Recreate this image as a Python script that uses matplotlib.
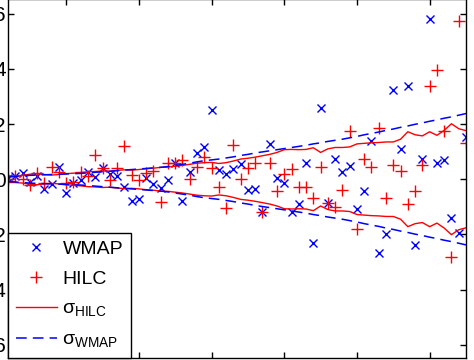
import matplotlib
matplotlib.use('Agg')
import matplotlib.pyplot as plt
import numpy as np

plt.rcParams['font.family'] = ['Liberation Sans', 'DejaVu Sans']
plt.rcParams['mathtext.fontset'] = 'custom'
plt.rcParams['mathtext.rm'] = 'Liberation Sans'

# multipoles
ell = np.arange(2, 66)

wmap = np.array([0.05, 0.12, 0.23, -0.10, 0.12, -0.35, -0.17, 0.45, -0.50, -0.13,
                 -0.03, 0.26, 0.08, 0.41, 0.19, 0.12, -0.28, -0.79, -0.71, 0.05,
                 -0.17, -0.32, -0.03, 0.59, -0.79, 0.26, 0.95, 1.17, 2.51, 0.34,
                 0.19, 0.37, 0.55, -0.39, -0.35, -1.18, 1.28, 0.05, -0.13, -1.18,
                 -0.89, 0.59, -2.31, 2.58, -0.86, 0.74, 0.26, 0.48, -1.08, -0.42,
                 1.39, -2.67, -1.98, 3.24, 1.10, 3.38, -2.38, 0.74, 5.81, 0.59,
                 0.70, -1.40, -1.95, 1.53])

hilc = np.array([0.01, 0.12, 0.01, -0.21, 0.23, -0.13, 0.45, 0.26, -0.13, -0.10,
                 0.26, 0.12, 0.88, 0.41, -0.03, 0.41, 1.21, 0.16, -0.03, 0.23,
                 0.30, -0.82, 0.59, 0.59, 0.70, 0.01, 0.45, 0.81, 0.41, -0.28,
                 -1.04, 1.24, 0.01, 0.41, 0.59, -1.18, 0.59, -0.42, 0.19, 0.37,
                 -0.28, -0.28, -0.68, 0.45, -0.86, -1.00, -0.39, 1.75, -1.80, 0.74,
                 0.45, 1.86, -0.68, 0.52, 0.30, -0.89, -0.42, 0.52, 3.38, 3.96,
                 1.75, -2.82, 5.74, 1.32])

sigma_hilc = np.array([0.12, 0.12, 0.14, 0.18, 0.20, 0.17, 0.15, 0.17, 0.20, 0.22,
                       0.24, 0.27, 0.28, 0.30, 0.29, 0.32, 0.34, 0.33, 0.35, 0.38,
                       0.40, 0.43, 0.44, 0.47, 0.50, 0.54, 0.58, 0.60, 0.61, 0.57,
                       0.60, 0.66, 0.73, 0.76, 0.80, 0.85, 0.90, 0.97, 1.07, 1.08,
                       1.07, 1.08, 1.14, 0.97, 1.10, 1.15, 1.15, 1.17, 1.28, 1.30,
                       1.32, 1.33, 1.35, 1.35, 1.45, 1.72, 1.61, 1.57, 1.72, 1.59,
                       1.77, 2.01, 1.83, 1.76])

sigma_wmap = np.array([0.08, 0.10, 0.12, 0.14, 0.15, 0.16, 0.17, 0.18, 0.19, 0.20,
                       0.21, 0.23, 0.25, 0.27, 0.29, 0.31, 0.33, 0.35, 0.37, 0.39,
                       0.41, 0.43, 0.46, 0.50, 0.54, 0.58, 0.63, 0.67, 0.70, 0.73,
                       0.77, 0.81, 0.86, 0.90, 0.95, 0.99, 1.03, 1.07, 1.11, 1.15,
                       1.19, 1.23, 1.28, 1.32, 1.37, 1.41, 1.45, 1.50, 1.55, 1.61,
                       1.66, 1.71, 1.77, 1.82, 1.88, 1.93, 1.99, 2.04, 2.10, 2.15,
                       2.21, 2.26, 2.32, 2.38])

fig = plt.figure(figsize=(4.74, 3.6), dpi=100)
ax = fig.add_axes([8 / 474, 2.5 / 360, 458 / 474, 358.5 / 360])

h1, = ax.plot(ell, wmap, 'x', color='#0000ff', ms=6, mew=1, label='WMAP')
h2, = ax.plot(ell, hilc, '+', color='#ff0000', ms=8, mew=1, label='HILC')
h3, = ax.plot(ell, sigma_hilc, '-', color='#ff0000', lw=1, label=r'σ$_{\mathrm{HILC}}$')
ax.plot(ell, -sigma_hilc, '-', color='#ff0000', lw=1)
h4, = ax.plot(ell, sigma_wmap, '--', color='#0000ff', lw=1.1, dashes=(7, 4),
              label=r'σ$_{\mathrm{WMAP}}$')
ax.plot(ell, -sigma_wmap, '--', color='#0000ff', lw=1.1, dashes=(7, 4))

ax.set_xlim(2, 65)
ax.set_ylim(-6.46, 6.53)
ax.set_xticks([10, 20, 30, 40, 50, 60])
ax.set_xticklabels([])  # x labels lie below the visible area
ax.set_yticks([-6, -4, -2, 0, 2, 4, 6])
ax.tick_params(direction='in', top=True, right=True, length=4, width=1,
               labelsize=15, pad=1.5)
for s in ax.spines.values():
    s.set_linewidth(1)

leg = ax.legend(handles=[h1, h2, h3, h4], loc='lower left', bbox_to_anchor=(0, 0),
                borderaxespad=0, fontsize=14, handlelength=2.1, handletextpad=0.3,
                borderpad=0.4, labelspacing=0.62, fancybox=False, framealpha=1,
                edgecolor='black')
leg.get_frame().set_linewidth(1)

fig.savefig('out.png', dpi=100)
